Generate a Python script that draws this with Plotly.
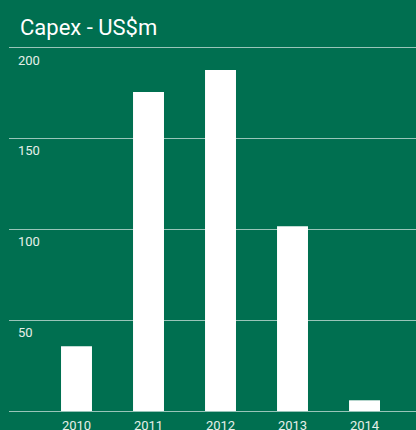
import plotly.graph_objects as go

years = ["2010", "2011", "2012", "2013", "2014"]
capex = [35.7, 175.7, 187.9, 101.8, 5.9]
y_ticks = [50, 100, 150, 200]
y_tick_labels = ["50", "100", "150", "200"]

bg = "#006f50"
grid = "rgba(255,255,255,0.6)"

fig = go.Figure(go.Bar(
    x=list(range(len(years))), y=capex,
    marker=dict(color="white", line=dict(width=0)),
    hoverinfo="skip",
))

fig.update_layout(
    width=416, height=430,
    paper_bgcolor=bg, plot_bgcolor=bg,
    margin=dict(l=9, r=0, t=48, b=19, autoexpand=False),
    bargap=0.57,
    showlegend=False,
    font=dict(family="Roboto", color="#e6efe9", size=13),
    title=dict(text="Capex - US$m", x=20/416, xanchor="left", xref="container",
               y=1 - 27/430, yanchor="middle", yref="container",
               font=dict(family="Roboto", size=22, color="white")),
)
fig.update_xaxes(
    range=[-0.9375, 4.715], automargin=False,
    tickvals=list(range(len(years))), ticktext=years,
    showgrid=False, zeroline=False,
    showline=True, mirror=True, linecolor=grid, linewidth=1,
    ticks="", ticklen=0, ticklabelstandoff=2,
    tickfont=dict(size=13, color="#e6efe9"),
)
fig.update_yaxes(
    range=[0, 200], automargin=False,
    tickvals=y_ticks, ticktext=y_tick_labels,
    showgrid=True, gridcolor=grid, gridwidth=1,
    zeroline=False, showline=False,
    ticklabelposition="inside", ticklabelstandoff=6, ticklabelshift=12,
    tickfont=dict(size=13, color="#e6efe9"),
)

fig.write_html("out.html")
